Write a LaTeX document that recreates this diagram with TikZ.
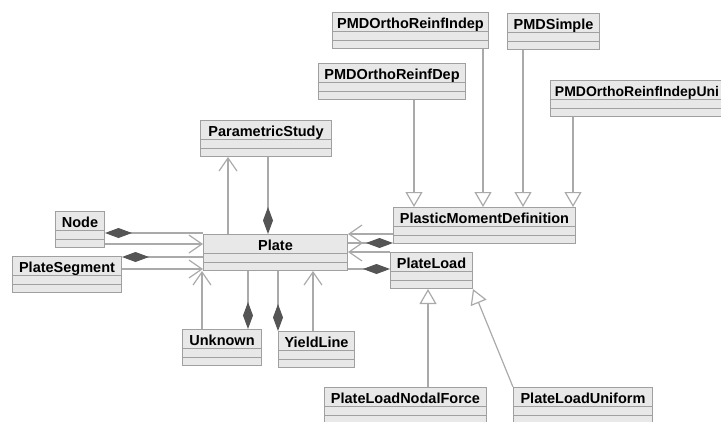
\documentclass[tikz,border=0pt]{standalone}
\usepackage{fontspec}
\setmainfont{Liberation Sans}
\usetikzlibrary{arrows.meta}
\definecolor{boxfill}{RGB}{232,232,232}
\definecolor{boxline}{RGB}{160,160,160}
\definecolor{conn}{RGB}{170,170,170}
\definecolor{diam}{RGB}{85,85,85}

\begin{document}
\begin{tikzpicture}[x=1pt, y=-1pt,
    umlclass/.style={draw=boxline, fill=boxfill, line width=1pt, anchor=north west,
        inner xsep=4pt, inner ysep=2.5pt, text height=13.5pt, text depth=17.5pt,
        font=\fontsize{14.5}{16}\selectfont\bfseries,
        path picture={\draw[boxline, line width=1pt]
            ([yshift=-19pt]path picture bounding box.north west) -- ([yshift=-19pt]path picture bounding box.north east)
            ([yshift=-28pt]path picture bounding box.north west) -- ([yshift=-28pt]path picture bounding box.north east);}},
    assoc/.style={draw=conn, line width=1.2pt, arrows={-Straight Barb[length=13pt, width=18pt]}},
    compfrom/.style={draw=conn, line width=1.2pt, arrows={Diamond[length=27pt, width=10pt, color=diam]-}},
    compto/.style={draw=conn, line width=1.2pt, arrows={-Diamond[length=27pt, width=10pt, color=diam]}},
    inherit/.style={draw=conn, line width=1.2pt, arrows={-Triangle[open, length=15pt, width=17pt, fill=white]}}]
    \useasboundingbox (0,0) rectangle (721,421);
    \clip (0,0) rectangle (721,421);

    \node[umlclass, minimum width=156pt] (indep) at (332,12) {PMDOrthoReinfIndep};
    \node[umlclass, minimum width=92pt] (simple) at (507,13) {PMDSimple};
    \node[umlclass, minimum width=147pt] (dep) at (318,63) {PMDOrthoReinfDep};
    \node[umlclass, minimum width=173pt, font=\fontsize{14}{16}\selectfont\bfseries] (uni) at (550,80) {PMDOrthoReinfIndepUni};
    \node[umlclass, minimum width=131pt] (param) at (200,120) {ParametricStudy};
    \node[umlclass, minimum width=182pt] (pmd) at (393,207) {PlasticMomentDefinition};
    \node[umlclass, minimum width=49pt] (nd) at (55,211) {Node};
    \node[umlclass, minimum width=144pt] (plate) at (203,234) {Plate};
    \node[umlclass, minimum width=109pt] (seg) at (12,256) {PlateSegment};
    \node[umlclass, minimum width=82pt] (load) at (390,252) {PlateLoad};
    \node[umlclass, minimum width=79pt] (unknown) at (182,329) {Unknown};
    \node[umlclass, minimum width=76pt] (yield) at (278,331) {YieldLine};
    \node[umlclass, minimum width=162pt] (nodal) at (324,387) {PlateLoadNodalForce};
    \node[umlclass, minimum width=139pt] (uniform) at (513,387) {PlateLoadUniform};

    \draw[compfrom] (nd.east |- 0,233) -- (plate.west |- 0,233);
    \draw[assoc] (nd.east |- 0,244) -- (plate.west |- 0,244);
    \draw[compfrom] (seg.east |- 0,257) -- (plate.west |- 0,257);
    \draw[assoc] (seg.east |- 0,269) -- (plate.west |- 0,269);

    \draw[assoc] (plate.north -| 228,0) -- (param.south -| 228,0);
    \draw[compto] (param.south -| 268,0) -- (plate.north -| 268,0);

    \draw[assoc] (unknown.north -| 202,0) -- (plate.south -| 202,0);
    \draw[compto] (plate.south -| 248,0) -- (unknown.north -| 248,0);
    \draw[compto] (plate.south -| 278,0) -- (yield.north -| 278,0);
    \draw[assoc] (yield.north -| 313,0) -- (plate.south -| 313,0);

    \draw[assoc] (pmd.west |- 0,234) -- (plate.east |- 0,234);
    \draw[compfrom] (pmd.west |- 0,243) -- (plate.east |- 0,243);
    \draw[assoc] (load.west |- 0,252) -- (plate.east |- 0,252);
    \draw[compfrom] (load.west |- 0,269) -- (plate.east |- 0,269);

    \draw[inherit] (dep.south -| 414,0) -- (pmd.north -| 414,0);
    \draw[inherit] (indep.south -| 483,0) -- (pmd.north -| 483,0);
    \draw[inherit] (simple.south -| 523,0) -- (pmd.north -| 523,0);
    \draw[inherit] (uni.south -| 573,0) -- (pmd.north -| 573,0);
    \draw[inherit] (nodal.north -| 428,0) -- (load.south -| 428,0);
    \draw[inherit] (uniform.north west) -- (load.south east);
\end{tikzpicture}
\end{document}
